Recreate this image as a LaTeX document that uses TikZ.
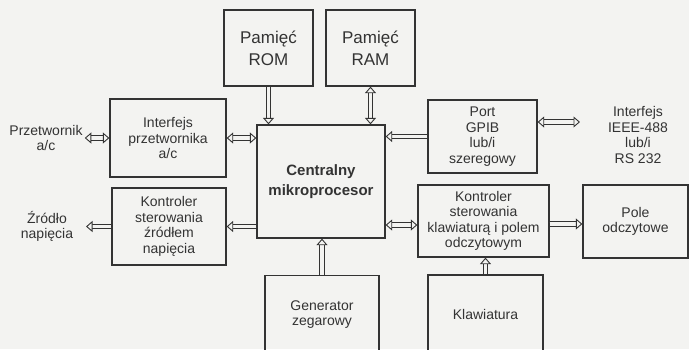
\documentclass[tikz,border=0pt]{standalone}
\usepackage{fontspec}
\setmainfont{Liberation Sans}
\usetikzlibrary{arrows.meta,calc}
\definecolor{bg}{HTML}{F3F3F1}
\definecolor{ink}{HTML}{333333}
\begin{document}
\begin{tikzpicture}[x=1pt,y=-1pt,
 box/.style={draw=ink, line width=1.3pt, text=ink, align=center, font=\fontsize{14}{15.5}\selectfont, inner sep=0pt},
 lbl/.style={text=ink, align=center, font=\fontsize{14}{15.5}\selectfont, inner sep=2pt},
 tip/.tip={Triangle[length=6.5pt,width=11pt,fill=bg,line width=0.9pt,line join=miter]},
 dar/.style={draw=ink, line width=0.9pt, double=bg, double distance=3.5pt, {tip}-{tip}},
 sar/.style={draw=ink, line width=0.9pt, double=bg, double distance=3.5pt, -{tip}},
]
\fill[bg] (0,0) rectangle (689,349);
\clip (0,0) rectangle (689,349);

\node[box, minimum width=89, minimum height=76, font=\fontsize{17}{22}\selectfont] (rom) at (268.5,48) {Pamięć\\ROM};
\node[box, minimum width=89, minimum height=76, font=\fontsize{17}{22}\selectfont] (ram) at (370.5,48) {Pamięć\\RAM};
\node[box, minimum width=116, minimum height=78] (iface) at (168,138) {Interfejs\\przetwornika\\a/c};
\node[box, minimum width=114, minimum height=77] (zrctrl) at (169,226.5) {Kontroler\\sterowania\\źródłem\\napięcia};
\node[box, minimum width=128, minimum height=113, font=\fontsize{15}{20}\selectfont\bfseries] (cpu) at (321,181.5) {Centralny\\mikroprocesor};
\node[box, minimum width=109, minimum height=73] (port) at (482.5,136.5) {Port\\GPIB\\lub/i\\szeregowy};
\node[box, minimum width=131, minimum height=72] (kbctrl) at (483.5,221) {Kontroler\\sterowania\\klawiaturą i polem\\odczytowym};
\node[box, minimum width=105, minimum height=73] (pole) at (635.5,221.5) {Pole\\odczytowe};
\node[box, minimum width=115, minimum height=78] (klaw) at (485.5,314) {Klawiatura};
\node[box, minimum width=114, minimum height=78] (gen) at (322,314.5) {Generator\\zegarowy};

\node[lbl] (prz) at (46,138) {Przetwornik\\a/c};
\node[lbl] (zr) at (47,226.5) {Źródło\\napięcia};
\node[lbl] (ieee) at (638,135) {Interfejs\\IEEE-488\\lub/i\\RS 232};
\coordinate (zrend) at (86,226.5);
\coordinate (ieeeend) at (580,122);

\draw[sar] (rom.south) -- (rom.south |- cpu.north);
\draw[dar] (ram.south) -- (ram.south |- cpu.north);
\draw[dar] (iface.west) -- (iface.west -| prz.east);
\draw[dar] (iface.east) -- (iface.east -| cpu.west);
\draw[sar] (zrctrl.east -| cpu.west) -- (zrctrl.east);
\draw[sar] (zrctrl.west) -- (zrend);
\draw[sar] (port.west) -- (port.west -| cpu.east);
\draw[dar] (port.east |- ieeeend) -- (ieeeend);
\draw[dar] ([yshift=-4]kbctrl.west) -- ([yshift=-4]kbctrl.west -| cpu.east);
\draw[sar] ([yshift=-3]kbctrl.east) -- ([yshift=-3]kbctrl.east -| pole.west);
\draw[sar] (klaw.north) -- (klaw.north |- kbctrl.south);
\draw[sar] (gen.north) -- (gen.north |- cpu.south);
\end{tikzpicture}
\end{document}
